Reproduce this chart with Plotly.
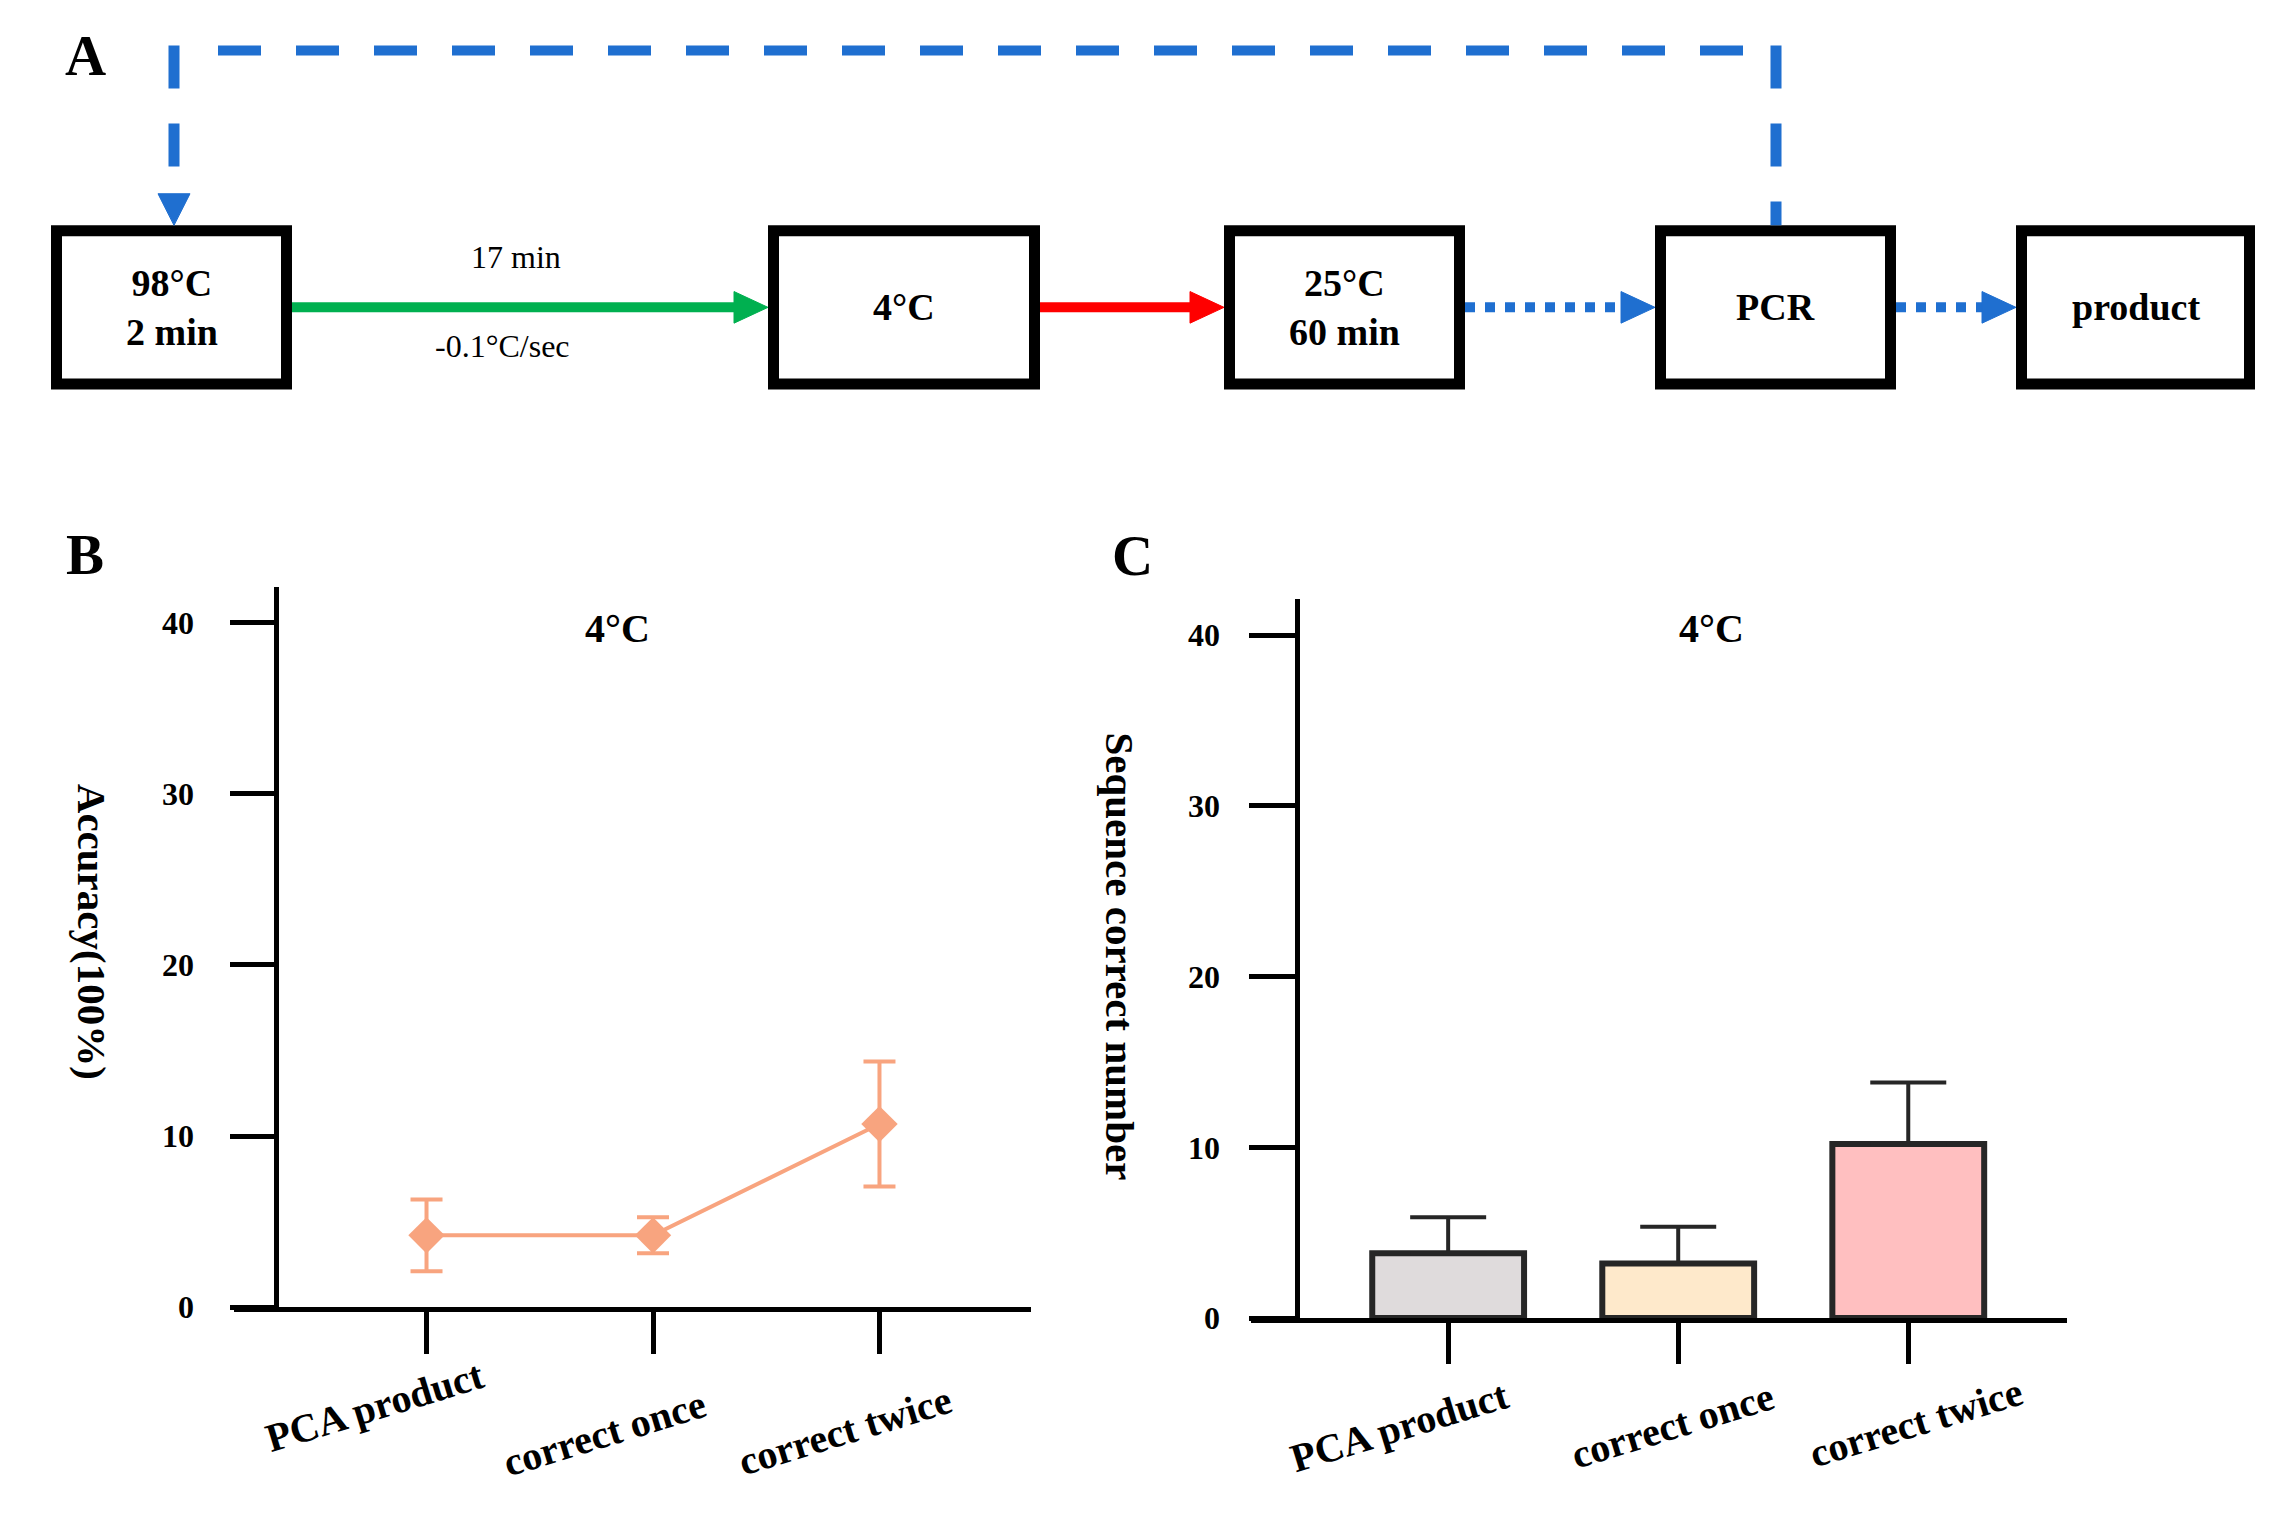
import plotly.graph_objects as go

# ---------------- data ----------------
categories = ["PCA product", "correct once", "correct twice"]
accuracy_mean = [4.2, 4.2, 10.7]
accuracy_err = [2.1, 1.05, 3.65]
seq_mean = [3.8, 3.2, 10.2]
seq_err = [2.1, 2.15, 3.6]
ytick_vals = [0, 10, 20, 30, 40]
bar_colors = ["#DFDBDC", "#FEE9CB", "#FFBFC0"]
line_color = "#F8A47F"

# panel A texts
box_texts = ["98°C<br>2 min", "4°C", "25°C<br>60 min", "PCR", "product"]
ramp_top_text = "17 min"
ramp_bottom_text = "-0.1°C/sec"

PAGE_W, PAGE_H = 2282, 1516
OFF = 8  # default body margin of the html page
W, H = PAGE_W - 2 * OFF, PAGE_H - 2 * OFF
FONT = "Liberation Serif"


def fx(x):
    return (x - OFF) / W


def fy(y):
    return 1 - (y - OFF) / H


fig = go.Figure()

# ---------------- panel B : line with error bars ----------------
fig.add_trace(go.Scatter(
    x=categories, y=accuracy_mean, mode="lines+markers",
    line=dict(color=line_color, width=4),
    marker=dict(symbol="diamond", size=28, color=line_color),
    error_y=dict(type="data", array=accuracy_err, color=line_color,
                 thickness=4, width=16),
    xaxis="x", yaxis="y", showlegend=False, cliponaxis=False,
))

# ---------------- panel C : bars with upward error bars ----------------
fig.add_trace(go.Bar(
    x=categories, y=seq_mean, width=0.66,
    marker=dict(color=bar_colors, line=dict(color="#262626", width=6)),
    error_y=dict(type="data", array=seq_err, arrayminus=[0] * len(seq_err),
                 symmetric=False, color="#262626", thickness=4, width=38),
    xaxis="x2", yaxis="y2", showlegend=False,
))

axis_common = dict(showline=True, linecolor="black", linewidth=5,
                   ticks="outside", tickcolor="black", tickwidth=5,
                   showgrid=False, zeroline=False)

fig.update_layout(
    width=W, height=H,
    margin=dict(l=0, r=0, t=0, b=0),
    paper_bgcolor="white", plot_bgcolor="rgba(0,0,0,0)",
    font=dict(family=FONT, color="black"),
    xaxis=dict(domain=[fx(234), fx(1031)], range=[-0.85, 2.669],
               anchor="y", ticklen=42, showticklabels=False,
               type="category", **axis_common),
    yaxis=dict(domain=[fy(1323), fy(594)], range=[0, 42.08],
               anchor="free", position=fx(275.5), ticklen=44,
               tickvals=ytick_vals, ticklabelstandoff=29,
               tickfont=dict(family=FONT, size=32, weight="bold"),
               **axis_common),
    xaxis2=dict(domain=[fx(1251), fx(2067)], range=[-0.857, 2.69],
                anchor="y2", ticklen=41, showticklabels=False,
                type="category", **axis_common),
    yaxis2=dict(domain=[fy(1334), fy(606.5)], range=[0, 42.1],
                anchor="free", position=fx(1296.5), ticklen=46,
                tickvals=ytick_vals, ticklabelstandoff=22,
                tickfont=dict(family=FONT, size=32, weight="bold"),
                **axis_common),
    # pixel canvas (page pixels) for the schematic of panel A
    xaxis3=dict(domain=[0, 1], range=[OFF, OFF + W], anchor="y3", showline=False,
                showgrid=False, zeroline=False, showticklabels=False,
                ticks="", fixedrange=True),
    yaxis3=dict(domain=[0, 1], range=[OFF + H, OFF], anchor="x3", showline=False,
                showgrid=False, zeroline=False, showticklabels=False,
                ticks="", fixedrange=True),
)

shapes = []
annotations = []

# ---------------- panel A : schematic ----------------
box_x = [(51, 292), (768, 1040), (1224, 1465), (1655, 1896), (2016, 2255)]
box_top, box_bot = 228, 394
bw = 11
mid_y = 311
for (x0, x1), txt in zip(box_x, box_texts):
    shapes.append(dict(type="rect", xref="x3", yref="y3",
                       x0=x0 + bw / 2, x1=x1 - bw / 2,
                       y0=box_top + bw / 2, y1=box_bot - bw / 2,
                       line=dict(color="black", width=bw), fillcolor="white"))
    annotations.append(dict(xref="x3", yref="y3", x=(x0 + x1) / 2, y=mid_y,
                            text=txt, showarrow=False,
                            font=dict(family=FONT, size=38, weight="bold"),
                            xanchor="center", yanchor="middle"))


def arrow(xa, xb, color, dash="solid"):
    head = 34
    shapes.append(dict(type="line", xref="x3", yref="y3", x0=xa, x1=xb - head + 4,
                       y0=mid_y, y1=mid_y, line=dict(color=color, width=10, dash=dash)))
    shapes.append(dict(type="path", xref="x3", yref="y3",
                       path=f"M {xb - head},{mid_y - 16} L {xb},{mid_y} L {xb - head},{mid_y + 16} Z",
                       fillcolor=color, line=dict(color=color, width=1)))


blue = "#1F6FD0"
arrow(box_x[0][1], box_x[1][0], "#00B050")
arrow(box_x[1][1], box_x[2][0], "#FF0000")
arrow(box_x[2][1], box_x[3][0], blue, dash="10px,10px")
arrow(box_x[3][1], box_x[4][0], blue, dash="10px,10px")

# dashed feedback loop PCR -> 98 °C
loop_y = 51
xl, xr = 174, 1776
dash_loop = "43px,35px"
shapes.append(dict(type="line", xref="x3", yref="y3", x0=xl, x1=xl, y0=loop_y - 5,
                   y1=box_top - 32, line=dict(color=blue, width=11, dash=dash_loop)))
shapes.append(dict(type="line", xref="x3", yref="y3", x0=xl + 44, x1=xr, y0=loop_y,
                   y1=loop_y, line=dict(color=blue, width=10, dash=dash_loop)))
shapes.append(dict(type="line", xref="x3", yref="y3", x0=xr, x1=xr, y0=loop_y - 5,
                   y1=box_top, line=dict(color=blue, width=11, dash=dash_loop)))
shapes.append(dict(type="path", xref="x3", yref="y3",
                   path=f"M {xl - 16},{box_top - 32} L {xl},{box_top} L {xl + 16},{box_top - 32} Z",
                   fillcolor=blue, line=dict(color=blue, width=1)))

annotations.append(dict(xref="x3", yref="y3", x=516, y=260, text=ramp_top_text,
                        showarrow=False, font=dict(family=FONT, size=32)))
annotations.append(dict(xref="x3", yref="y3", x=502, y=350, text=ramp_bottom_text,
                        showarrow=False, font=dict(family=FONT, size=32)))

# panel letters
for letter, (px, py) in zip(["A", "B", "C"], [(85, 56), (85, 561), (1132, 562)]):
    annotations.append(dict(xref="paper", yref="paper", x=fx(px), y=fy(py), text=letter,
                            showarrow=False, xanchor="center", yanchor="middle",
                            font=dict(family=FONT, size=57, weight="bold")))

# panel titles
for px, py in [(617, 636), (1712, 636)]:
    annotations.append(dict(xref="paper", yref="paper", x=fx(px), y=fy(py), text="4°C",
                            showarrow=False, xanchor="center", yanchor="middle",
                            font=dict(family=FONT, size=40, weight="bold")))

# y-axis titles (reading top to bottom)
annotations.append(dict(xref="paper", yref="paper", x=fx(92), y=fy(943),
                        text="Accuracy(100%)", textangle=90, showarrow=False,
                        xanchor="center", yanchor="middle",
                        font=dict(family=FONT, size=41, weight="bold")))
annotations.append(dict(xref="paper", yref="paper", x=fx(1120), y=fy(968),
                        text="Sequence correct number", textangle=90, showarrow=False,
                        xanchor="center", yanchor="middle",
                        font=dict(family=FONT, size=41, weight="bold")))

# rotated category labels
label_shift_b = [(-52, 1423), (-49, 1451), (-34, 1448)]
label_shift_c = [(-48, 1444), (-6, 1443), (8, 1440)]
for xa, shifts in [("x", label_shift_b), ("x2", label_shift_c)]:
    for cat, (dx, py) in zip(categories, shifts):
        annotations.append(dict(xref=xa, yref="paper", x=cat, y=fy(py), xshift=dx,
                                text=cat, textangle=-17, showarrow=False,
                                xanchor="center", yanchor="middle",
                                font=dict(family=FONT, size=40, weight="bold")))

fig.update_layout(shapes=shapes, annotations=annotations)
fig.write_html("out.html")
